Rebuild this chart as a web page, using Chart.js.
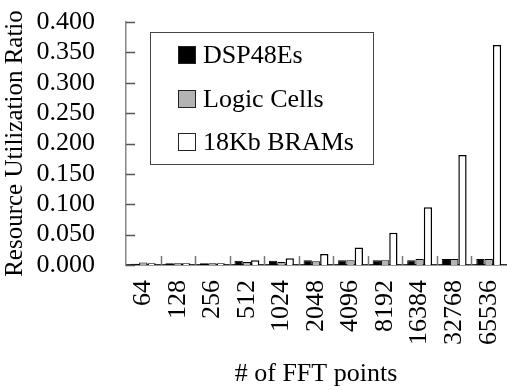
<!DOCTYPE html>
<html>
<head>
<meta charset="utf-8">
<script src="https://cdn.jsdelivr.net/npm/chart.js@4"></script>
<style>
  html, body { margin:0; padding:0; background:#fff; }
  #wrap { width:507px; height:390px; }
</style>
</head>
<body>
<div id="wrap"><canvas id="c" width="507" height="390"></canvas></div>
<script>
const fftPoints = ['64','128','256','512','1024','2048','4096','8192','16384','32768','65536'];
const dsp48 = [0.002, 0.003, 0.003, 0.007, 0.007, 0.008, 0.008, 0.008, 0.008, 0.010, 0.010];
const logicCells = [0.004, 0.003, 0.003, 0.005, 0.005, 0.006, 0.008, 0.008, 0.010, 0.010, 0.010];
const brams = [0.003, 0.003, 0.003, 0.008, 0.011, 0.018, 0.029, 0.053, 0.095, 0.181, 0.362];
const yTicks = [0, 0.05, 0.1, 0.15, 0.2, 0.25, 0.3, 0.35, 0.4];

const serif = "'Liberation Serif', 'Times New Roman', serif";

// inward tick marks + legend box inside plot
const decor = {
  id: 'decor',
  afterDraw(chart){
    const {ctx, chartArea: a, scales:{x, y}} = chart;
    ctx.save();
    ctx.lineWidth = 1.5;
    ctx.strokeStyle = '#555';
    yTicks.forEach(v => {
      const py = Math.round(y.getPixelForValue(v)) + 0.5;
      ctx.beginPath(); ctx.moveTo(a.left, py); ctx.lineTo(a.left + 9, py); ctx.stroke();
    });
    ctx.strokeStyle = '#777';
    for(let i=1;i<fftPoints.length;i++){
      const px = Math.round(x.getPixelForValue(i - 0.5)) + 0.5;
      ctx.beginPath(); ctx.moveTo(px, a.bottom); ctx.lineTo(px, a.bottom - 9); ctx.stroke();
    }
    // legend
    ctx.lineWidth = 1;
    ctx.strokeStyle = '#444';
    ctx.strokeRect(150.5, 32.5, 223, 132);
    const rows = [55, 99, 142];
    ctx.font = '26px ' + serif;
    ctx.textBaseline = 'middle';
    chart.data.datasets.forEach((ds, i) => {
      ctx.fillStyle = ds.backgroundColor;
      ctx.fillRect(178, rows[i] - 9, 18, 18);
      ctx.strokeStyle = '#222';
      ctx.strokeRect(178.5, rows[i] - 8.5, 17, 17);
      ctx.fillStyle = '#000';
      ctx.fillText(ds.label, 203, rows[i] + 1);
    });
    ctx.restore();
  }
};

new Chart(document.getElementById('c'), {
  type: 'bar',
  data: {
    labels: fftPoints,
    datasets: [
      { label: 'DSP48Es', data: dsp48, backgroundColor: '#000000', borderColor: '#000', borderWidth: 1 },
      { label: 'Logic Cells', data: logicCells, backgroundColor: '#b3b3b3', borderColor: '#000', borderWidth: 1 },
      { label: '18Kb BRAMs', data: brams, backgroundColor: '#ffffff', borderColor: '#000', borderWidth: 1.5 }
    ]
  },
  options: {
    responsive: false,
    animation: false,
    devicePixelRatio: 1,
    layout: { padding: { top: 22, right: 1, left: 0, bottom: 0 } },
    plugins: { legend: { display: false }, tooltip: { enabled: false } },
    datasets: { bar: { categoryPercentage: 0.72, barPercentage: 1.0 } },
    scales: {
      x: {
        grid: { display: false, drawTicks: false },
        border: { display: true, color: '#333', width: 1.5 },
        ticks: { color: '#000', font: { family: serif, size: 26 }, minRotation: 90, maxRotation: 90, padding: 15, autoSkip: false },
        title: { display: true, text: '# of FFT points', color: '#000', font: { family: serif, size: 26 }, padding: { top: 2, bottom: 0 } },
        afterFit(s){ s.height = 125; s.paddingLeft = 0; s.paddingRight = 0; }
      },
      y: {
        min: 0, max: 0.4,
        grid: { display: false, drawTicks: false },
        border: { display: true, color: '#888', width: 1.5 },
        afterBuildTicks(s){ s.ticks = yTicks.map(v => ({ value: v })); },
        ticks: { color: '#000', font: { family: serif, size: 26 }, padding: 31, autoSkip: false, callback: v => v.toFixed(3) },
        title: { display: true, text: 'Resource Utilization Ratio', color: '#000', font: { family: serif, size: 25 }, padding: { top: 0, bottom: 0 } },
        afterFit(s){ s.width = 126; s.paddingTop = 0; s.paddingBottom = 0; }
      }
    }
  },
  plugins: [decor]
});
</script>
</body>
</html>
